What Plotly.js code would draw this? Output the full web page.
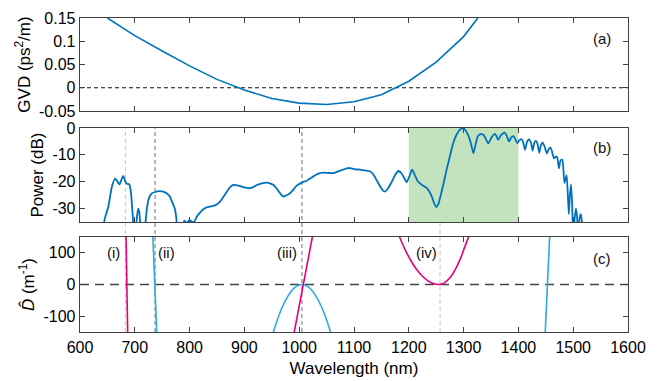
<!DOCTYPE html>
<html>
<head>
<meta charset="utf-8">
<script src="https://cdn.plot.ly/plotly-3.0.1.min.js"></script>
<style>html,body{margin:0;padding:0;background:#fff;}#chart{width:663px;height:381px;}</style>
</head>
<body>
<div id="chart"></div>
<script>
// ---- Panel (a): GVD ----
const gvdWl  = [650, 700, 750, 800, 850, 900, 950, 1000, 1050, 1100, 1150, 1200, 1250, 1300, 1326];
const gvdVal = [0.150, 0.112, 0.079, 0.047, 0.018, -0.005, -0.023, -0.033, -0.036, -0.030, -0.015, 0.014, 0.055, 0.110, 0.150];

// ---- Panel (b): power spectrum ----
const powWl = [641,645,652,658,664,668,672,676,679,682,685,690,693,696,699,703,706,708,711,714,
  719,722,726,730,737,745,752,758,764,768,773,776,778,788,790,795,800,804,808,813,
  819,825,831,837,843,849,855,862,868,874,880,887,895,902,910,916,922,930,941,948,
  953,960,966,971,977,983,989,995,1003,1008,1014,1020,1026,1035,1044,1053,1062,1070,1080,1087,
  1093,1100,1111,1120,1129,1135,1141,1147,1153,1157,1162,1169,1175,1181,1186,1190,1196,1201,1206,1211,
  1217,1225,1233,1238,1242,1246,1250,1254,1257,1263,1269,1275,1281,1287,1293,1299,1304,1308,1313,1318,
  1322,1326,1331,1336,1340,1345,1351,1357,1360,1363,1369,1375,1379,1383,1387,1391,1394,1398,1402,1406,
  1409,1412,1416,1419,1423,1426,1429,1432,1435,1438,1441,1444,1448,1452,1455,1458,1461,1465,1469,1471,
  1474,1477,1480,1482,1484,1486,1488,1490,1492,1494,1496,1498,1500,1503,1505,1507,1509,1512,1514,1516,1518];
const powDb = [-40,-34,-29,-22,-18.8,-19.8,-21,-19,-17.8,-19.5,-20.7,-21,-24,-32,-40,-35,-30,-31,-38,-40,
  -36,-30,-26,-24.5,-23.8,-23.5,-23.7,-24.3,-25.5,-27.5,-30,-34,-40,-40,-34.5,-35.2,-34.3,-34.8,-35,-33,
  -31.5,-30.2,-29.5,-29.2,-29,-28.5,-27.5,-25.5,-23.7,-22,-21.2,-21.3,-21.8,-22.2,-22.4,-22,-21.3,-20.7,-20.3,-20.7,
  -21.2,-22.8,-24.5,-25.5,-25,-24.3,-23,-21.5,-20.5,-20,-19.6,-18.8,-18,-17,-16.6,-16.7,-16.8,-16.2,-15.5,-15,
  -14.9,-15.3,-15.5,-15.8,-16.1,-17.2,-19.3,-21.5,-23.3,-23.6,-22.5,-20,-17.5,-16,-16.7,-18,-20.1,-18,-15.5,-17.5,
  -20,-21.3,-22.4,-23.8,-25.5,-27.8,-29.4,-28.3,-26,-21,-15.5,-10.5,-5.7,-2.5,-0.7,0,-1,-2.5,-5.5,-9.4,
  -6,-3.1,-2.3,-2.5,-3.8,-5.7,-3.5,-2.2,-3,-4.4,-2.5,-1.7,-3,-5,-3.5,-3,-4,-5.7,-4.5,-4.2,
  -5.5,-8.1,-5,-4.2,-5.5,-8.4,-5.5,-4.8,-6,-9.2,-6.5,-5.4,-7,-9.5,-8,-7.2,-8.5,-11.3,-10.6,-11,
  -15,-12,-11.8,-15,-20.5,-19,-17.5,-24,-32,-25,-21,-28,-40,-33,-30,-33,-40,-33,-32,-35,-40];

// ---- Panel (c): D-hat curves ----
const pinkAWl = [684, 687],   pinkAD = [150, -150];
const blueAWl = [733, 740],   blueAD = [150, -150];
const pinkBWl = [991, 1024],  pinkBD = [-150, 150];
const blueBWl = [953, 960, 970, 980, 990, 1000, 1005, 1010, 1020, 1030, 1040, 1050, 1057];
const blueBD  = [-150, -112, -68, -35, -12.5, -1.4, 0, -1.4, -12.5, -35, -68, -112, -150];
const pinkCWl = [1183, 1195, 1205, 1215, 1225, 1235, 1245, 1255, 1265, 1275, 1285, 1295, 1302, 1309];
const pinkCD  = [150, 104, 72, 46, 26, 11.6, 2.9, 0, 5.3, 21, 48, 85, 118, 150];
const blueCWl = [1449, 1457], blueCD = [-150, 150];

// markers / annotations
const markerWl  = [683, 737, 1005, 1257];
const markerCol = ['#cfcfcf', '#8a8a8a', '#8a8a8a', '#cfcfcf'];
const romanText = ['(i)', '(ii)', '(iii)', '(iv)'];
const romanWl   = [662, 757, 977, 1232];
const xTicks = [600,700,800,900,1000,1100,1200,1300,1400,1500,1600];
const aTickVals = [0.15, 0.1, 0.05, 0, -0.05], aTickText = ['0.15','0.1','0.05','0','-0.05'];
const bTickVals = [0, -10, -20, -30], bTickText = ['0','-10','-20','-30'];
const cTickVals = [100, 0, -100], cTickText = ['100','0','-100'];

const BLUE = '#0072BD', PINK = '#E6007E', SKY = '#29ABE2';
const FAMILY = 'Liberation Sans, Arial, sans-serif';
const tickFont  = {family: FAMILY, size: 16, color: '#000'};
const titleFont = {family: FAMILY, size: 17, color: '#000'};

const traces = [
  {x: gvdWl, y: gvdVal, xaxis: 'x', yaxis: 'y', mode: 'lines', line: {color: BLUE, width: 1.6}},
  {x: powWl, y: powDb, xaxis: 'x2', yaxis: 'y2', mode: 'lines', line: {color: BLUE, width: 1.8, shape: 'spline', smoothing: 0.6}},
  {x: pinkAWl, y: pinkAD, xaxis: 'x3', yaxis: 'y3', mode: 'lines', line: {color: PINK, width: 1.6}},
  {x: blueAWl, y: blueAD, xaxis: 'x3', yaxis: 'y3', mode: 'lines', line: {color: SKY, width: 1.6}},
  {x: blueBWl, y: blueBD, xaxis: 'x3', yaxis: 'y3', mode: 'lines', line: {color: SKY, width: 1.6, shape: 'spline'}},
  {x: pinkBWl, y: pinkBD, xaxis: 'x3', yaxis: 'y3', mode: 'lines', line: {color: PINK, width: 1.6}},
  {x: pinkCWl, y: pinkCD, xaxis: 'x3', yaxis: 'y3', mode: 'lines', line: {color: PINK, width: 1.6, shape: 'spline'}},
  {x: blueCWl, y: blueCD, xaxis: 'x3', yaxis: 'y3', mode: 'lines', line: {color: SKY, width: 1.6}}
];

const axBase = {
  showline: true, linecolor: '#404040', linewidth: 1.3, mirror: 'ticks',
  ticks: 'inside', ticklen: 5, tickcolor: '#404040', tickwidth: 1,
  showgrid: false, zeroline: false, tickfont: tickFont
};
const xBase = Object.assign({}, axBase, {range: [600, 1600], tickvals: xTicks});

const shapes = [
  {type: 'rect', xref: 'x2', yref: 'y2', x0: 1200, x1: 1400, y0: -35, y1: 0,
   fillcolor: '#C3E3BF', line: {width: 0}, layer: 'below'},
  {type: 'line', xref: 'x', yref: 'y', x0: 600, x1: 1600, y0: 0, y1: 0,
   line: {color: '#111', width: 1.2, dash: '4px,3px'}, layer: 'below'},
  {type: 'line', xref: 'x3', yref: 'y3', x0: 600, x1: 1600, y0: 0, y1: 0,
   line: {color: '#444', width: 1.4, dash: '9px,6px'}, layer: 'below'}
];
markerWl.forEach((w, i) => shapes.push({
  type: 'line', xref: 'x3', yref: 'paper', x0: w, x1: w, y0: 0, y1: 0.6497,
  line: {color: markerCol[i], width: 1.2, dash: '4px,3px'}, layer: 'below'
}));

const annFont = {family: FAMILY, size: 15, color: '#111'};
const annotations = [
  {xref: 'x', yref: 'y', x: 1552, y: 0.107, text: '(a)', showarrow: false, font: annFont},
  {xref: 'x2', yref: 'y2', x: 1552, y: -7.4, text: '(b)', showarrow: false, font: annFont},
  {xref: 'x3', yref: 'y3', x: 1552, y: 83, text: '(c)', showarrow: false, font: annFont}
];
romanWl.forEach((w, i) => annotations.push({
  xref: 'x3', yref: 'y3', x: w, y: 100, text: romanText[i], showarrow: false, font: annFont
}));

const layout = {
  width: 663, height: 381,
  margin: {l: 80, r: 35, t: 18, b: 49},
  paper_bgcolor: '#fff', plot_bgcolor: 'rgba(0,0,0,0)',
  showlegend: false, font: tickFont,
  xaxis:  Object.assign({}, xBase, {anchor: 'y', showticklabels: false}),
  xaxis2: Object.assign({}, xBase, {anchor: 'y2', showticklabels: false, matches: 'x'}),
  xaxis3: Object.assign({}, xBase, {anchor: 'y3', matches: 'x',
           title: {text: 'Wavelength (nm)', font: titleFont, standoff: 7}}),
  yaxis:  Object.assign({}, axBase, {domain: [0.7038, 1], range: [-0.05, 0.15], anchor: 'x',
           tickvals: aTickVals, ticktext: aTickText,
           title: {text: 'GVD (ps<sup>2</sup>/m)', font: titleFont, standoff: 4}}),
  yaxis2: Object.assign({}, axBase, {domain: [0.350, 0.6497], range: [-35, 0], anchor: 'x2',
           tickvals: bTickVals, ticktext: bTickText,
           title: {text: 'Power (dB)', font: titleFont, standoff: 4}}),
  yaxis3: Object.assign({}, axBase, {domain: [0, 0.3025], range: [-150, 150], anchor: 'x3',
           tickvals: cTickVals, ticktext: cTickText,
           title: {text: '<i>D̂</i> (m<sup>-1</sup>)', font: titleFont, standoff: 4}}),
  shapes: shapes, annotations: annotations
};

Plotly.newPlot('chart', traces, layout, {staticPlot: true, displayModeBar: false});
</script>
</body>
</html>
